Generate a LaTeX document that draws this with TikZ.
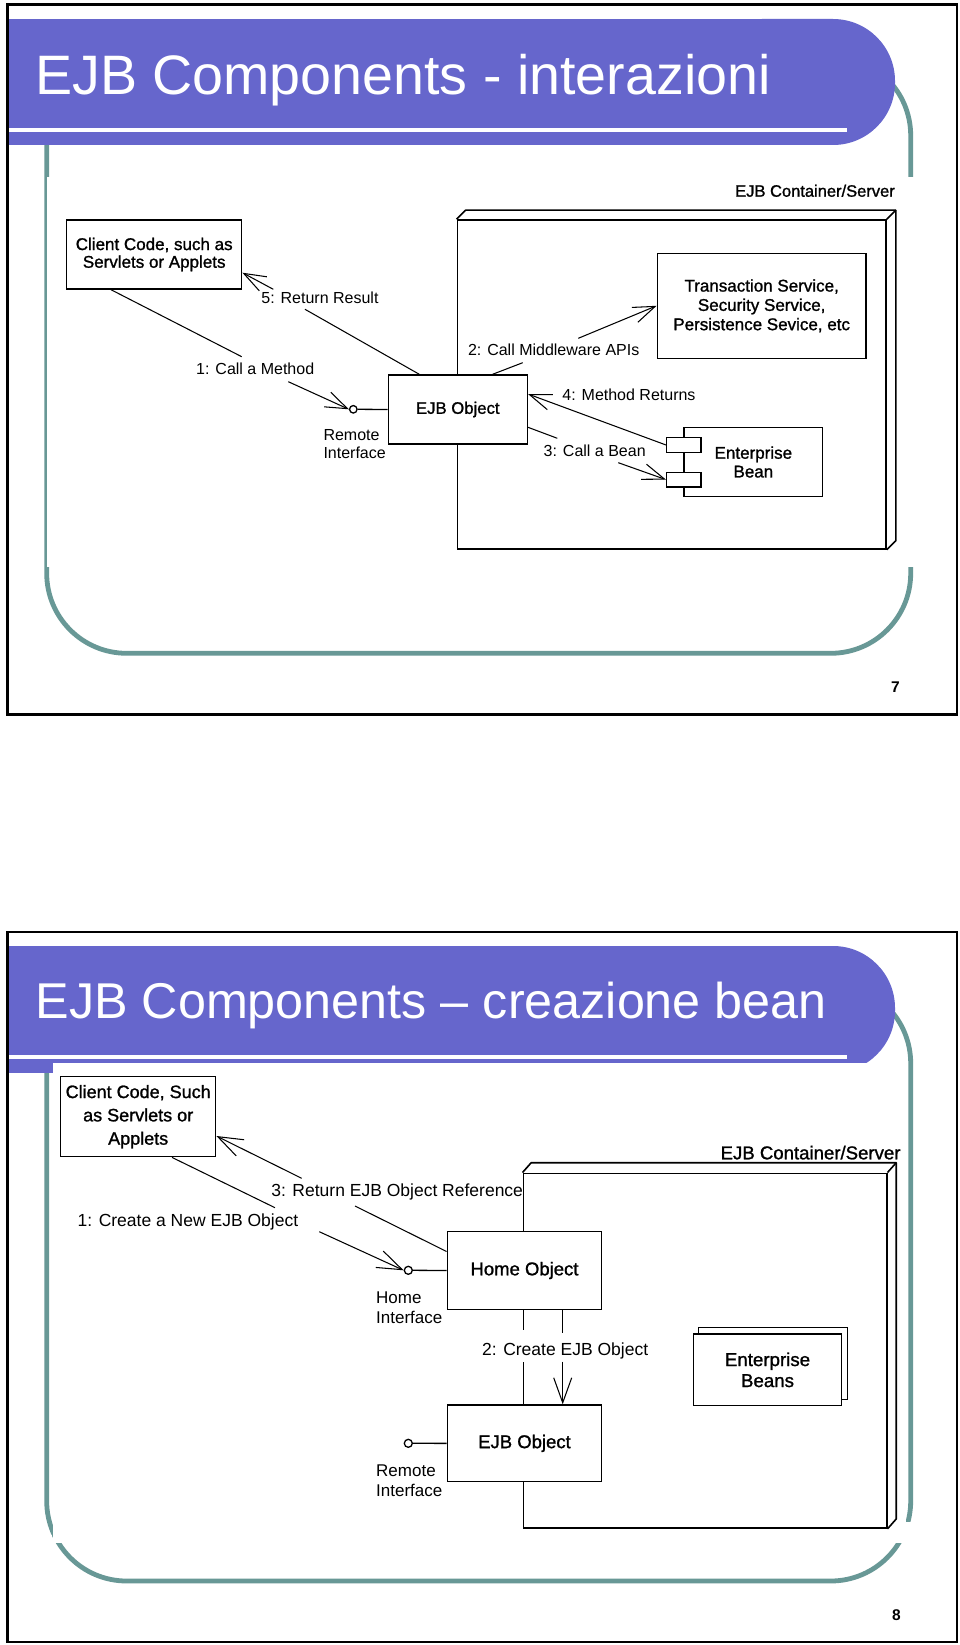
\documentclass[tikz,border=0pt]{standalone}
\usepackage{fontspec}
\setmainfont{Liberation Sans}
\newfontfamily\boxfnt[FakeBold=1.2]{Liberation Sans}
\usetikzlibrary{arrows.meta}
\definecolor{barblue}{RGB}{102,102,204}
\definecolor{tealframe}{RGB}{104,152,150}
\newcommand\fsLabA{\fontsize{16}{18}\selectfont}
\newcommand\fsLabB{\fontsize{17.5}{20}\selectfont}
\tikzset{
  bx/.style={draw, line width=1.4pt, fill=white, inner sep=0pt, align=center},
  lnk/.style={line width=1.05pt},
  msg/.style={line width=1.05pt, -{Straight Barb[length=22pt,width=16pt]}},
  msgb/.style={line width=1.05pt, -{Straight Barb[length=25pt,width=18pt]}},
  lab/.style={inner sep=0pt, anchor=base west},
  lolli/.style={circle, draw, line width=1.3pt, fill=white, minimum size=7.5pt, inner sep=0pt},
  frameline/.style={line width=2.2pt},
  tealline/.style={tealframe, line width=4.8pt, rounded corners=80pt},
  nodebox/.style={draw, line width=1.6pt, inner sep=0pt},
}
\begin{document}
\begin{tikzpicture}[x=1pt,y=-1pt]
\useasboundingbox (0,0) rectangle (960,1645);
\fill[white] (0,0) rectangle (960,1645);

% ================= SLIDE 1 =================
\draw[tealline] (46.7,55.6) rectangle (910.7,653.3);
\fill[barblue] (8.5,19) rectangle (800,145);
\fill[barblue, rounded corners=62pt] (700,19) rectangle (895,145);
\fill[white] (8.5,127.7) rectangle (847.3,131.7);
\node[anchor=base west, inner sep=0pt, text=white, font=\fontsize{55.6}{60}\selectfont] (title1) at (35,95) {EJB Components - interazioni};
\fill[white] (47,176.7) rectangle (915,566.7);
\draw[frameline] (7.5,4.5) rectangle (957,714.5);
\node[anchor=base, inner sep=0pt, font=\bfseries\fontsize{15.5}{16}\selectfont] (pg7) at (895.5,692.7) {7};

% container
\node[nodebox, minimum width=428.7pt, minimum height=329pt] (cont1) at (671.65,384.5) {};
\draw[line width=1.6pt, line join=round] (cont1.north west) -- ([shift={(9,-9)}]cont1.north west) -- ([shift={(9,-9)}]cont1.north east) -- ([shift={(9,-9)}]cont1.south east) -- (cont1.south east);
\draw[line width=1.6pt] (cont1.north east) -- ([shift={(9,-9)}]cont1.north east);
\node[anchor=base east, inner sep=0pt, font=\boxfnt\fontsize{16.5}{18}\selectfont] (contlab1) at (895,196.7) {EJB Container/Server};

% boxes
\node[bx, minimum width=175pt, minimum height=69pt, font=\boxfnt\fontsize{17}{17.7}\selectfont] (client1) at (154.2,254.5) {Client Code, such as\\Servlets or Applets};
\node[bx, minimum width=208.7pt, minimum height=105pt, font=\boxfnt\fontsize{17}{19.3}\selectfont] (trans1) at (761.65,305.8) {Transaction Service,\\Security Service,\\Persistence Sevice, etc};
\node[bx, minimum width=139pt, minimum height=69pt, font=\boxfnt\fontsize{16.7}{18}\selectfont] (ejb1) at (457.8,409.5) {EJB Object};
\node[bx, minimum width=138.7pt, minimum height=69.4pt, font=\boxfnt\fontsize{17}{18.7}\selectfont] (bean1) at (753.35,462) {Enterprise\\Bean};
\node[bx, minimum width=34.3pt, minimum height=14.6pt] (port1) at (683.85,445) {};
\node[bx, minimum width=34.3pt, minimum height=14.6pt] (port2) at (683.85,479.65) {};

% remote interface
\node[lolli] (ri1) at (353.3,409.3) {};
\draw[line width=1.3pt] (ri1.east) -- (ejb1.west);
\node[lab, align=left, font=\fontsize{16}{18}\selectfont] (ri1t) at (323.3,458) {Remote\\Interface};

% labels
\node[lab, font=\fsLabA] (m1) at (196,374) {1: Call a Method};
\node[lab, font=\fsLabA] (m5) at (261.2,303.3) {5: Return Result};
\node[lab, font=\fsLabA] (m2) at (467.8,355) {2: Call Middleware APIs};
\node[lab, font=\fsLabA] (m4) at (562.2,400) {4: Method Returns};
\node[lab, font=\fsLabA] (m3) at (543.5,456.7) {3: Call a Bean};

% connectors
\coordinate (a1) at (241.7,356.7);
\coordinate (a2) at (288.3,381.7);
\draw[lnk] ([shift={(45,0)}]client1.south west) -- (a1);
\draw[msg] (a2) -- (ri1.west);
\coordinate (b1) at (305,309.3);
\coordinate (b2) at (273.3,289.3);
\draw[lnk] ([shift={(31.7,0)}]ejb1.north west) -- (b1);
\draw[msg] (b2) -- ([shift={(0,18.2)}]client1.east);
\coordinate (c1) at (522.7,362.7);
\coordinate (c2) at (578.3,338.3);
\draw[lnk] ([shift={(105,0)}]ejb1.north west) -- (c1);
\draw[msg] (c2) -- (trans1.west);
\draw[msg] (port1.west) -- ([shift={(0,-15.5)}]ejb1.east);
\coordinate (e1) at (557.3,438.3);
\coordinate (e2) at (618.3,462.7);
\draw[lnk] ([shift={(0,17.8)}]ejb1.east) -- (e1);
\draw[msg] (e2) -- (port2.west);

% ================= SLIDE 2 =================
\draw[tealline] (46.7,983.3) rectangle (910.7,1581);
\fill[barblue] (8.5,946) rectangle (800,1072.7);
\fill[barblue, rounded corners=62pt] (700,946) rectangle (895,1072.7);
\fill[white] (8.5,1055) rectangle (847.3,1059.3);
\node[anchor=base west, inner sep=0pt, text=white, font=\fontsize{50.3}{55}\selectfont] (title2) at (35.4,1018.5) {EJB Components – creazione bean};
\fill[white] (53.3,1063.3) rectangle (906,1543);
\fill[white] (40,1535) rectangle (52,1543);
\fill[white] (905,1522) rectangle (916,1543);
\draw[frameline] (7.5,932) rectangle (957,1642);
\node[anchor=base, inner sep=0pt, font=\bfseries\fontsize{15.5}{16}\selectfont] (pg8) at (896.5,1620.4) {8};

% container
\node[nodebox, minimum width=363.4pt, minimum height=354.7pt] (cont2) at (705,1350.65) {};
\draw[line width=1.6pt, line join=round] (cont2.north west) -- ([shift={(8.7,-9.8)}]cont2.north west) -- ([shift={(8.7,-9.8)}]cont2.north east) -- ([shift={(8.7,-9.8)}]cont2.south east) -- (cont2.south east);
\draw[line width=1.6pt] (cont2.north east) -- ([shift={(8.7,-9.8)}]cont2.north east);
\node[anchor=base east, inner sep=0pt, font=\boxfnt\fontsize{18.6}{20}\selectfont] (contlab2) at (900.7,1159.3) {EJB Container/Server};

% boxes
\node[bx, minimum width=155pt, minimum height=80pt, font=\boxfnt\fontsize{18}{23.3}\selectfont] (client2) at (138.2,1116.7) {Client Code, Such\\as Servlets or\\Applets};
\node[bx, minimum width=154.4pt, minimum height=77.6pt, font=\boxfnt\fontsize{18.5}{20}\selectfont] (home2) at (524.5,1270.5) {Home Object};
\node[bx, minimum width=154.4pt, minimum height=76.7pt, font=\boxfnt\fontsize{18.5}{20}\selectfont] (ejb2) at (524.5,1443.35) {EJB Object};
\node[draw, line width=1.4pt, fill=white, minimum width=149.4pt, minimum height=72pt, inner sep=0pt] (beansback) at (773,1363.3) {};
\node[bx, minimum width=148.4pt, minimum height=71.7pt, font=\boxfnt\fontsize{18.7}{21}\selectfont] (beans2) at (767.5,1369.85) {Enterprise\\Beans};

% interfaces
\node[lolli, minimum size=8pt] (hi2) at (408.3,1270.3) {};
\draw[line width=1.3pt] (hi2.east) -- (home2.west);
\node[lab, align=left, font=\fontsize{17}{20}\selectfont] (hi2t) at (376,1323.3) {Home\\Interface};
\node[lolli, minimum size=8pt] (ri2) at (408.3,1443.3) {};
\draw[line width=1.3pt] (ri2.east) -- (ejb2.west);
\node[lab, align=left, font=\fontsize{17}{20}\selectfont] (ri2t) at (376,1496.7) {Remote\\Interface};

% labels
\node[lab, font=\fsLabB] (n3) at (271.2,1196.7) {3: Return EJB Object Reference};
\node[lab, font=\fsLabB] (n1) at (77.5,1226.7) {1: Create a New EJB Object};
\node[lab, font=\fsLabB, fill=white, text height=25pt, text depth=6.7pt, inner xsep=1pt] (n2) at (481,1355) {2: Create EJB Object};

% connectors
\coordinate (f1) at (275,1207.7);
\coordinate (f2) at (319.3,1231.7);
\draw[lnk] ([shift={(112,0)}]client2.south west) -- (f1);
\draw[msgb] (f2) -- (hi2.west);
\coordinate (g1) at (355,1206);
\coordinate (g2) at (301.7,1178.3);
\draw[lnk] ([shift={(0,-19)}]home2.west) -- (g1);
\draw[msgb] (g2) -- ([shift={(0,19.3)}]client2.east);
\coordinate (h1) at (562.7,1332.7);
\coordinate (h2) at (562.7,1361.7);
\draw[lnk] ([shift={(38.2,0)}]home2.south) -- (h1);
\draw[msgb] (h2) -- ([shift={(38.2,0)}]ejb2.north);
\end{tikzpicture}
\end{document}
